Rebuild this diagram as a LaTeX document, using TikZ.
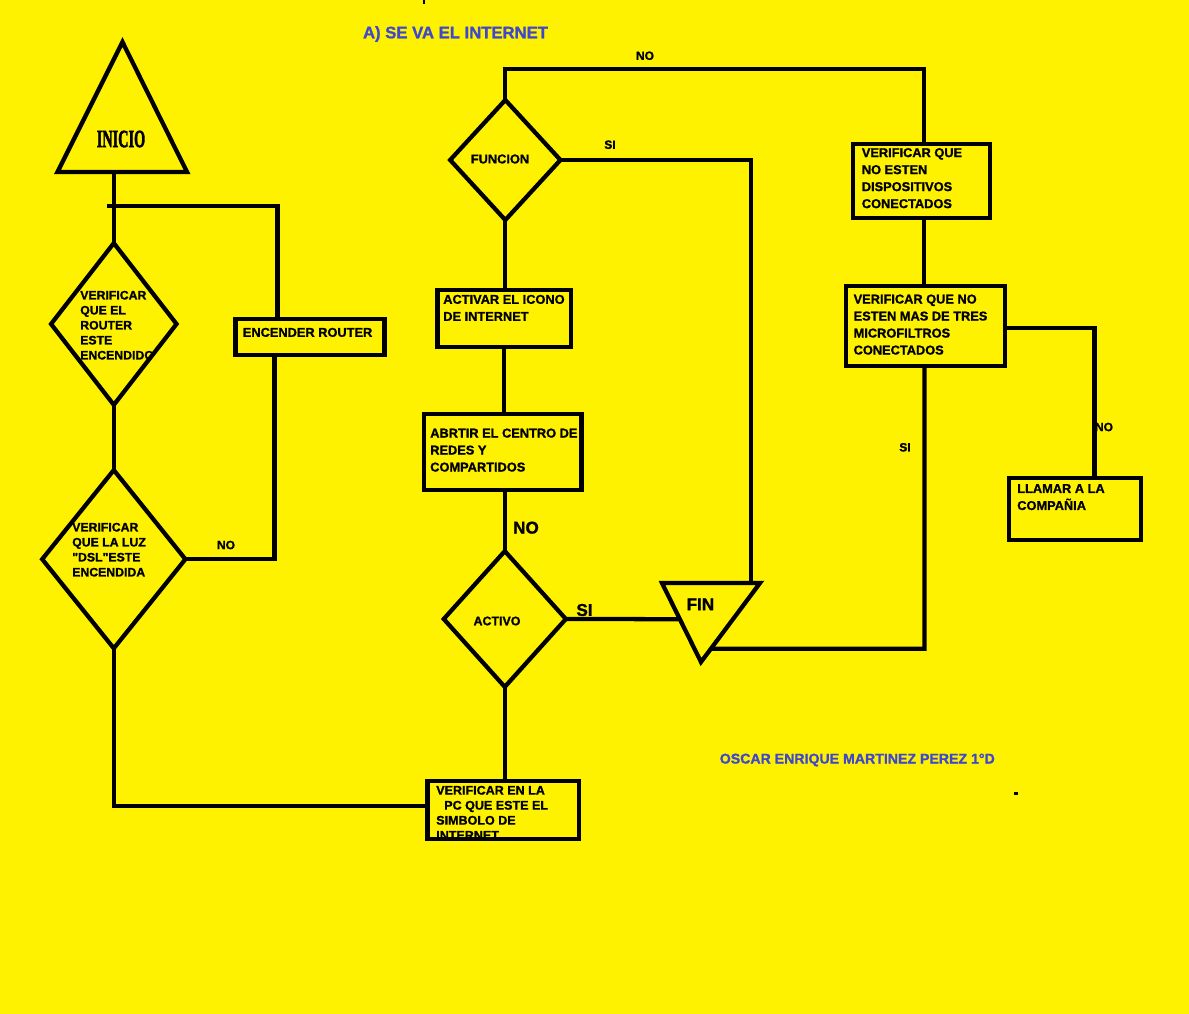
\documentclass[tikz,border=0pt]{standalone}
\usepackage{fontspec}
\usepackage{graphicx}
\setmainfont{Liberation Sans}[Ligatures=TeXOff, BoldFeatures={FakeBold=1.2}]
\newfontfamily\inifont{Liberation Serif}[Ligatures=TeXOff, BoldFeatures={FakeBold=2.5}]
\usetikzlibrary{shapes.geometric,calc}
\definecolor{bgyellow}{RGB}{255,242,0}
\definecolor{inkblue}{RGB}{63,72,204}
\tikzset{
  ln/.style={line width=3.2pt, draw=black},
  boxnode/.style={draw=black, line width=3.2pt, rectangle, inner sep=0pt, outer sep=0pt},
  dianode/.style={draw=black, line width=3.2pt, diamond, inner sep=0pt, outer sep=0pt},
  boxtxt/.style={anchor=north west, inner sep=0pt, align=left, font=\fontsize{9.6}{12.75}\selectfont\bfseries},
  diatxt/.style={anchor=north west, inner sep=0pt, align=left, font=\fontsize{9.2}{11.25}\selectfont\bfseries},
  lblsmall/.style={inner sep=0pt, font=\fontsize{9}{10}\selectfont\bfseries},
  lblmid/.style={inner sep=0pt, font=\fontsize{9.6}{11}\selectfont\bfseries},
  lblbig/.style={inner sep=0pt, font=\fontsize{12.8}{14}\selectfont\bfseries},
  bluetxt/.style={inner sep=0pt, text=inkblue}
}
\begin{document}
\begin{tikzpicture}[x=0.75pt,y=-0.75pt]
\fill[bgyellow] (0,0) rectangle (1189,1014);
\useasboundingbox (0,0) rectangle (1189,1014);

% stray marks
\fill[black] (423,0) rectangle (425,4);
\fill[black] (1014,792) rectangle (1018,794.5);

% titles
\node[bluetxt, font=\fontsize{12.5}{14}\selectfont\bfseries] (title) at (455.5,34) {A) SE VA EL INTERNET};
\node[bluetxt, font=\fontsize{10.6}{12}\selectfont\bfseries] (author) at (857.3,760) {OSCAR ENRIQUE MARTINEZ PEREZ 1°D};

% texts (drawn before shapes)
\node[diatxt] (t1) at (80,290.6) {VERIFICAR\\QUE EL\\ROUTER\\ESTE\\ENCENDIDO};
\node[diatxt] (t2) at (72,522.6) {VERIFICAR\\QUE LA LUZ\\"DSL"ESTE\\ENCENDIDA};
\node[boxtxt] (t3) at (242.6,327.6) {ENCENDER ROUTER};
\node[boxtxt] (t4) at (443,294.6) {ACTIVAR EL ICONO\\DE INTERNET};
\node[boxtxt] (t5) at (430,428.3) {ABRTIR EL CENTRO DE\\REDES Y\\COMPARTIDOS};
\node[boxtxt, font=\fontsize{9.4}{11.25}\selectfont\bfseries] (t6) at (436,785.6) {VERIFICAR EN LA\\\hspace*{6pt}PC QUE ESTE EL\\SIMBOLO DE\\INTERNET};
\node[boxtxt] (t7) at (861.6,147.9) {VERIFICAR QUE\\NO ESTEN\\DISPOSITIVOS\\CONECTADOS};
\node[boxtxt] (t8) at (853.4,294.3) {VERIFICAR QUE NO\\ESTEN MAS DE TRES\\MICROFILTROS\\CONECTADOS};
\node[boxtxt] (t9) at (1017,483.9) {LLAMAR A LA\\COMPAÑIA};
\node[lblmid] (tf) at (500,159) {FUNCION};
\node[lblmid, font=\fontsize{9.3}{11}\selectfont\bfseries] (ta) at (497,621) {ACTIVO};
\node[inner sep=0pt, font=\fontsize{18.5}{20}\selectfont] (ini) at (121,139) {\scalebox{0.58}[1]{\inifont\bfseries INICIO}};
\node[lblbig] (fin) at (700.4,604.3) {FIN};

% labels
\node[lblsmall] (lno1) at (226,545) {NO};
\node[lblbig] (lno2) at (526,527.7) {NO};
\node[lblbig] (lsi1) at (584.5,610) {SI};
\node[lblsmall] (lno3) at (645,55.7) {NO};
\node[lblsmall] (lsi2) at (610,144.7) {SI};
\node[lblsmall] (lsi3) at (905,447.3) {SI};
\node[lblsmall] (lno4) at (1104,427) {NO};

% shapes
\node[dianode, minimum width=94.1pt, minimum height=121.3pt] (d1) at (113.8,324) {};
\node[dianode, minimum width=107.4pt, minimum height=133.7pt] (d2) at (113.8,559.2) {};
\node[dianode, minimum width=82.7pt, minimum height=90pt] (dFun) at (505.3,160) {};
\node[dianode, minimum width=91.6pt, minimum height=101.8pt] (dAct) at (504.8,619) {};
\node[boxnode, minimum width=111.75pt, minimum height=27.45pt] (bRouter) at (310,337) {};
\node[boxnode, minimum width=100.05pt, minimum height=42.75pt] (bAct) at (504.2,318.8) {};
\node[boxnode, minimum width=118.2pt, minimum height=57pt] (bAbr) at (502.8,451.7) {};
\node[boxnode, minimum width=113.55pt, minimum height=43.05pt] (bPC) at (503.3,810) {};
\node[boxnode, minimum width=102.75pt, minimum height=55.7pt] (bDisp) at (921.2,180.9) {};
\node[boxnode, minimum width=119.25pt, minimum height=60pt] (bMicro) at (925.5,326) {};
\node[boxnode, minimum width=99pt, minimum height=46.3pt] (bLlam) at (1075,508.9) {};

% triangles
\coordinate (iniA) at (122.5,42);
\coordinate (iniL) at (57.5,172);
\coordinate (iniR) at (187,172);
\draw[ln] (iniA) -- (iniL) -- (iniR) -- cycle;
\coordinate (finTL) at (662,583);
\coordinate (finTR) at (760,583);
\coordinate (finB) at (701,662);
\draw[ln] (finTL) -- (finTR) -- (finB) -- cycle;

% junction coordinates
\coordinate (iniBase) at (113.8,172);
\coordinate (j1) at (107,206.3);
\coordinate (j2) at (277.5,206.3);
\coordinate (j3) at (274.4,559.2);
\coordinate (j4) at (113.8,805.7);
\coordinate (j5) at (924,69.3);
\coordinate (j6) at (751,160);
\coordinate (j7) at (1094.6,328);
\coordinate (j8) at (924.5,648.7);
\coordinate (finL) at ($(finTL)!0.458!(finB)$);
\coordinate (finR) at ($(finTR)!0.833!(finB)$);

% connectors
\draw[ln] (iniBase) -- (d1.north);
\draw[ln] (j1) -- (j2) -- (j2 |- bRouter.north);
\draw[ln] (j3 |- bRouter.south) -- (j3) -- (d2.east);
\draw[ln] (d1.south) -- (d2.north);
\draw[ln] (d2.south) -- (j4) -- (j4 -| bPC.west);
\draw[ln] (dAct.south) -- (dAct.south |- bPC.north);
\draw[ln] (dAct.north |- bAbr.south) -- (dAct.north);
\draw[ln] (bAct.south) -- (bAct.south |- bAbr.north);
\draw[ln] (dFun.south) -- (dFun.south |- bAct.north);
\draw[ln] (dFun.north) -- (dFun.north |- j5) -- (j5) -- (j5 |- bDisp.north);
\draw[ln] (dFun.east) -- (j6) -- (j6 |- finTR);
\draw[ln] (dAct.east) -- (finL);
\draw[ln] (j5 |- bDisp.south) -- (j5 |- bMicro.north);
\draw[ln] (bMicro.east |- j7) -- (j7) -- (j7 |- bLlam.north);
\draw[ln] (j8 |- bMicro.south) -- (j8) -- (finR);
\end{tikzpicture}
\end{document}
